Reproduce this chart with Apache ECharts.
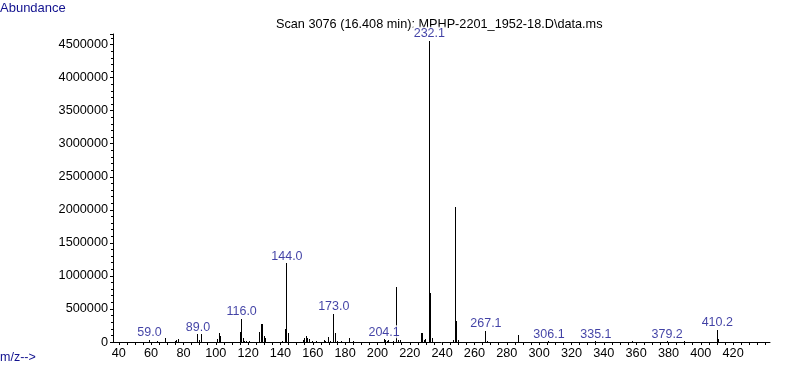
<!DOCTYPE html>
<html><head><meta charset="utf-8">
<script src="https://cdn.jsdelivr.net/npm/echarts@6/dist/echarts.min.js"></script>
<style>html,body{margin:0;padding:0;background:#fff}#c{width:787px;height:367px}</style>
</head><body><div id="c"></div>
<script>
// ---- data ----
const mz = [59, 64, 69, 75, 76, 77, 89, 90, 91, 101, 102, 103,
  115, 116, 117, 118, 119, 121, 127, 128, 129, 130, 131,
  141, 143, 144, 145, 154, 155, 156, 157, 158, 160, 162,
  167, 168, 170, 171, 173, 174, 175, 178, 183, 185,
  204.1, 205, 206, 207, 210, 212, 213, 214,
  227, 228, 229, 230, 232.1, 233, 234,
  247, 248, 249, 250, 267.1, 268, 287,
  306.1, 335.1, 358, 379.2, 390, 410.2, 411];
const abundance = [30000, 15000, 55000, 20000, 30000, 50000, 120000, 30000, 120000, 50000, 130000, 90000,
  155000, 348000, 55000, 20000, 15000, 15000, 150000, 270000, 275000, 90000, 60000,
  15000, 196000, 1190000, 136000, 30000, 55000, 90000, 55000, 45000, 20000, 20000,
  25000, 20000, 70000, 20000, 423000, 136000, 15000, 15000, 65000, 15000,
  40000, 25000, 20000, 30000, 20000, 836000, 30000, 25000,
  135000, 140000, 30000, 45000, 4558000, 746000, 55000,
  30000, 2047000, 318000, 25000, 171000, 15000, 106000,
  12000, 12000, 8000, 10000, 8000, 181000, 40000];
const labeledMz = [59.0, 89.0, 116.0, 144.0, 173.0, 204.1, 232.1, 267.1, 306.1, 335.1, 379.2, 410.2];
const xLabelValues = [40, 60, 80, 100, 120, 140, 160, 180, 200, 220, 240, 260, 280, 300, 320, 340, 360, 380, 400, 420];
const xTickValues = [40, 45, 50, 55, 60, 65, 70, 75, 80, 85, 90, 95, 100, 105, 110, 115, 120, 125, 130, 135,
  140, 145, 150, 155, 160, 165, 170, 175, 180, 185, 190, 195, 200, 205, 210, 215, 220, 225, 230, 235,
  240, 245, 250, 255, 260, 265, 270, 275, 280, 285, 290, 295, 300, 305, 310, 315, 320, 325, 330, 335,
  340, 345, 350, 355, 360, 365, 370, 375, 380, 385, 390, 395, 400, 405, 410, 415, 420, 425, 430, 435, 440];
const titleText = 'Scan 3076 (16.408 min): MPHP-2201_1952-18.D\\data.ms';
const yTitle = 'Abundance';
const xTitle = 'm/z-->';

// ---- chart ----
const FONT = "'Liberation Sans', Arial, sans-serif";
const BLUE = '#12128f';
const peaks = mz.map((m, i) => [m, abundance[i]]);
const labelPts = labeledMz.map(m => [m, abundance[mz.indexOf(m)]]);

const chart = echarts.init(document.getElementById('c'), null, {renderer: 'canvas'});
chart.setOption({
  animation: false,
  backgroundColor: '#fff',
  title: [
    {text: titleText, left: 276, top: 18, z: 6, padding: 0,
     textStyle: {fontFamily: FONT, fontSize: 12.7, fontWeight: 'normal', color: '#000'}},
    {text: yTitle, left: 0, top: 2, padding: 0,
     textStyle: {fontFamily: FONT, fontSize: 13, fontWeight: 'normal', color: BLUE}},
    {text: xTitle, left: 0, top: 351, padding: 0,
     textStyle: {fontFamily: FONT, fontSize: 12.5, fontWeight: 'normal', color: BLUE}}
  ],
  grid: {left: 113, right: 17, top: 34, bottom: 25, containLabel: false},
  xAxis: {
    type: 'value', min: 36.43, max: 442.8,
    axisLine: {show: true, onZero: false, lineStyle: {color: '#000', width: 1}},
    axisTick: {show: true, customValues: xTickValues, length: 3, lineStyle: {color: '#000'}},
    axisLabel: {customValues: xLabelValues, margin: 5, color: '#000', fontFamily: FONT, fontSize: 12.7},
    splitLine: {show: false}
  },
  yAxis: {
    type: 'value', min: 0, max: 4660000, interval: 500000,
    axisLine: {show: true, lineStyle: {color: '#000', width: 1}},
    axisTick: {show: true, length: 3, lineStyle: {color: '#000'}},
    minorTick: {show: true, splitNumber: 5, length: 2, lineStyle: {color: '#000'}},
    axisLabel: {showMaxLabel: false, margin: 5, color: '#000', fontFamily: FONT, fontSize: 12.7,
      formatter: v => String(Math.round(v))},
    splitLine: {show: false}, minorSplitLine: {show: false}
  },
  series: [
    {
      type: 'custom', z: 3,
      data: peaks,
      renderItem: function (params, api) {
        const top = api.coord([api.value(0), api.value(1)]);
        const base = api.coord([api.value(0), 0]);
        const x = Math.floor(top[0]);
        const y1 = Math.round(top[1]);
        const y2 = Math.round(base[1]);
        return {type: 'rect', shape: {x: x, y: y1, width: 1, height: y2 - y1}, style: {fill: '#000'}};
      }
    },
    {
      type: 'scatter', z: 10, symbolSize: 0, silent: true,
      data: labelPts,
      label: {
        show: true, position: 'top', distance: 1,
        formatter: p => p.value[0].toFixed(1),
        color: BLUE, fontFamily: FONT, fontSize: 12.5, lineHeight: 12,
        backgroundColor: '#fff', padding: [1, 1, 0, 1]
      }
    }
  ]
});
</script></body></html>
